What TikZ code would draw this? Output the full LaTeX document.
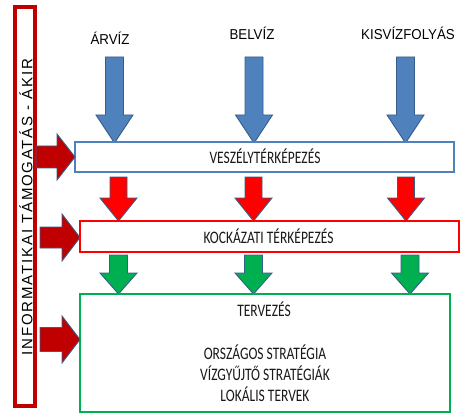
\documentclass[tikz,border=0pt]{standalone}
\usepackage{fontspec}
\setmainfont{Liberation Sans}
\newfontfamily\calfont{Carlito}
\newfontfamily\rotfont[LetterSpace=12]{Liberation Sans}
\definecolor{bblue}{HTML}{4F81BD}
\definecolor{dblue}{HTML}{385D8A}
\definecolor{dred}{HTML}{C00000}
\definecolor{bgreen}{HTML}{00B050}
\definecolor{bred}{HTML}{FF0000}
\newcommand\bt[1]{\scalebox{1}[1.3]{#1}}
\newcommand\tl[1]{\scalebox{1}[1.08]{#1}}
\newcommand\blockdown[7]{\filldraw[#1] ({#2-#5},#3) -- ({#2+#5},#3) -- ({#2+#5},#4) -- ({#2+#6},#4) -- (#2,#7) -- ({#2-#6},#4) -- ({#2-#5},#4) -- cycle;}
\newcommand\blockright[7]{\filldraw[#1] (#3,{#2-#5}) -- (#3,{#2+#5}) -- (#4,{#2+#5}) -- (#4,{#2+#6}) -- (#7,#2) -- (#4,{#2-#6}) -- (#4,{#2-#5}) -- cycle;}
\begin{document}
\begin{tikzpicture}[x=1pt,y=-1pt,
  stagebox/.style={draw, line width=1.8pt, fill=white, inner sep=0pt},
  boxtext/.style={font=\calfont\fontsize{13.5}{16}\selectfont, inner sep=0pt, text=black!90},
  toplabel/.style={font=\fontsize{13.3}{16}\selectfont, inner sep=0pt, anchor=base},
  blarrow/.style={fill=bblue, draw=dblue, line width=0.9pt},
  rdarrow/.style={fill=bred, draw=dblue, line width=0.9pt},
  grarrow/.style={fill=bgreen, draw=dblue, line width=0.9pt},
  sidearrow/.style={fill=dred, draw=dblue, line width=0.9pt}]
\useasboundingbox (0,0) rectangle (472,420);
% left info box
\node[draw=dred, line width=4pt, minimum width=20pt, minimum height=399pt, inner sep=0pt] (info) at (25,206.5) {};
\node[rotate=90, font=\rotfont\fontsize{15}{18}\selectfont, inner sep=0pt] (infotext) at (26,207) {INFORMATIKAI TÁMOGATÁS - ÁKIR};
% top labels
\node[toplabel] (arviz) at (110,45) {\tl{ÁRVÍZ}};
\node[toplabel] (belviz) at (252,40) {\tl{BELVÍZ}};
\node[toplabel] (kisviz) at (408,40) {\tl{KISVÍZFOLYÁS}};
% blue arrows
\blockdown{blarrow}{114.5}{57}{115}{9}{18.5}{143}
\blockdown{blarrow}{254}{57}{115}{9}{18.5}{143}
\blockdown{blarrow}{405.5}{57}{115}{9}{18.5}{143}
% box 1
\node[stagebox, draw=bblue, minimum width=379pt, minimum height=30pt] (haz) at (264.5,157) {};
\node[boxtext] (haztext) at (265,156.5) {\bt{VESZÉLYTÉRKÉPEZÉS}};
% red arrows
\blockdown{rdarrow}{118.5}{177}{198}{8.5}{18.5}{221}
\blockdown{rdarrow}{253.5}{177}{198}{8.5}{18.5}{221}
\blockdown{rdarrow}{406}{177}{198}{8.5}{18.5}{221}
% box 2
\node[stagebox, draw=bred, minimum width=379pt, minimum height=31pt] (risk) at (269.5,236.5) {};
\node[boxtext] (risktext) at (268.5,236) {\bt{KOCKÁZATI TÉRKÉPEZÉS}};
% green arrows
\blockdown{grarrow}{118.5}{255}{273}{9}{18.5}{294}
\blockdown{grarrow}{253.5}{255}{273}{9}{18.5}{294}
\blockdown{grarrow}{410}{255}{273}{9}{18.5}{294}
% box 3
\node[stagebox, draw=bgreen, minimum width=370pt, minimum height=118pt] (plan) at (265,353) {};
\node[boxtext] (plantitle) at (264,309.5) {\bt{TERVEZÉS}};
\node[boxtext] (plan1) at (265,352.5) {\bt{ORSZÁGOS STRATÉGIA}};
\node[boxtext] (plan2) at (265,373.5) {\bt{VÍZGYŰJTŐ STRATÉGIÁK}};
\node[boxtext] (plan3) at (265,394) {\bt{LOKÁLIS TERVEK}};
% side arrows
\blockright{sidearrow}{157}{36}{57}{11}{23}{75}
\blockright{sidearrow}{237.5}{40}{62}{10.5}{23.5}{80}
\blockright{sidearrow}{339.5}{40}{62}{12}{23.5}{80}
\end{tikzpicture}
\end{document}
